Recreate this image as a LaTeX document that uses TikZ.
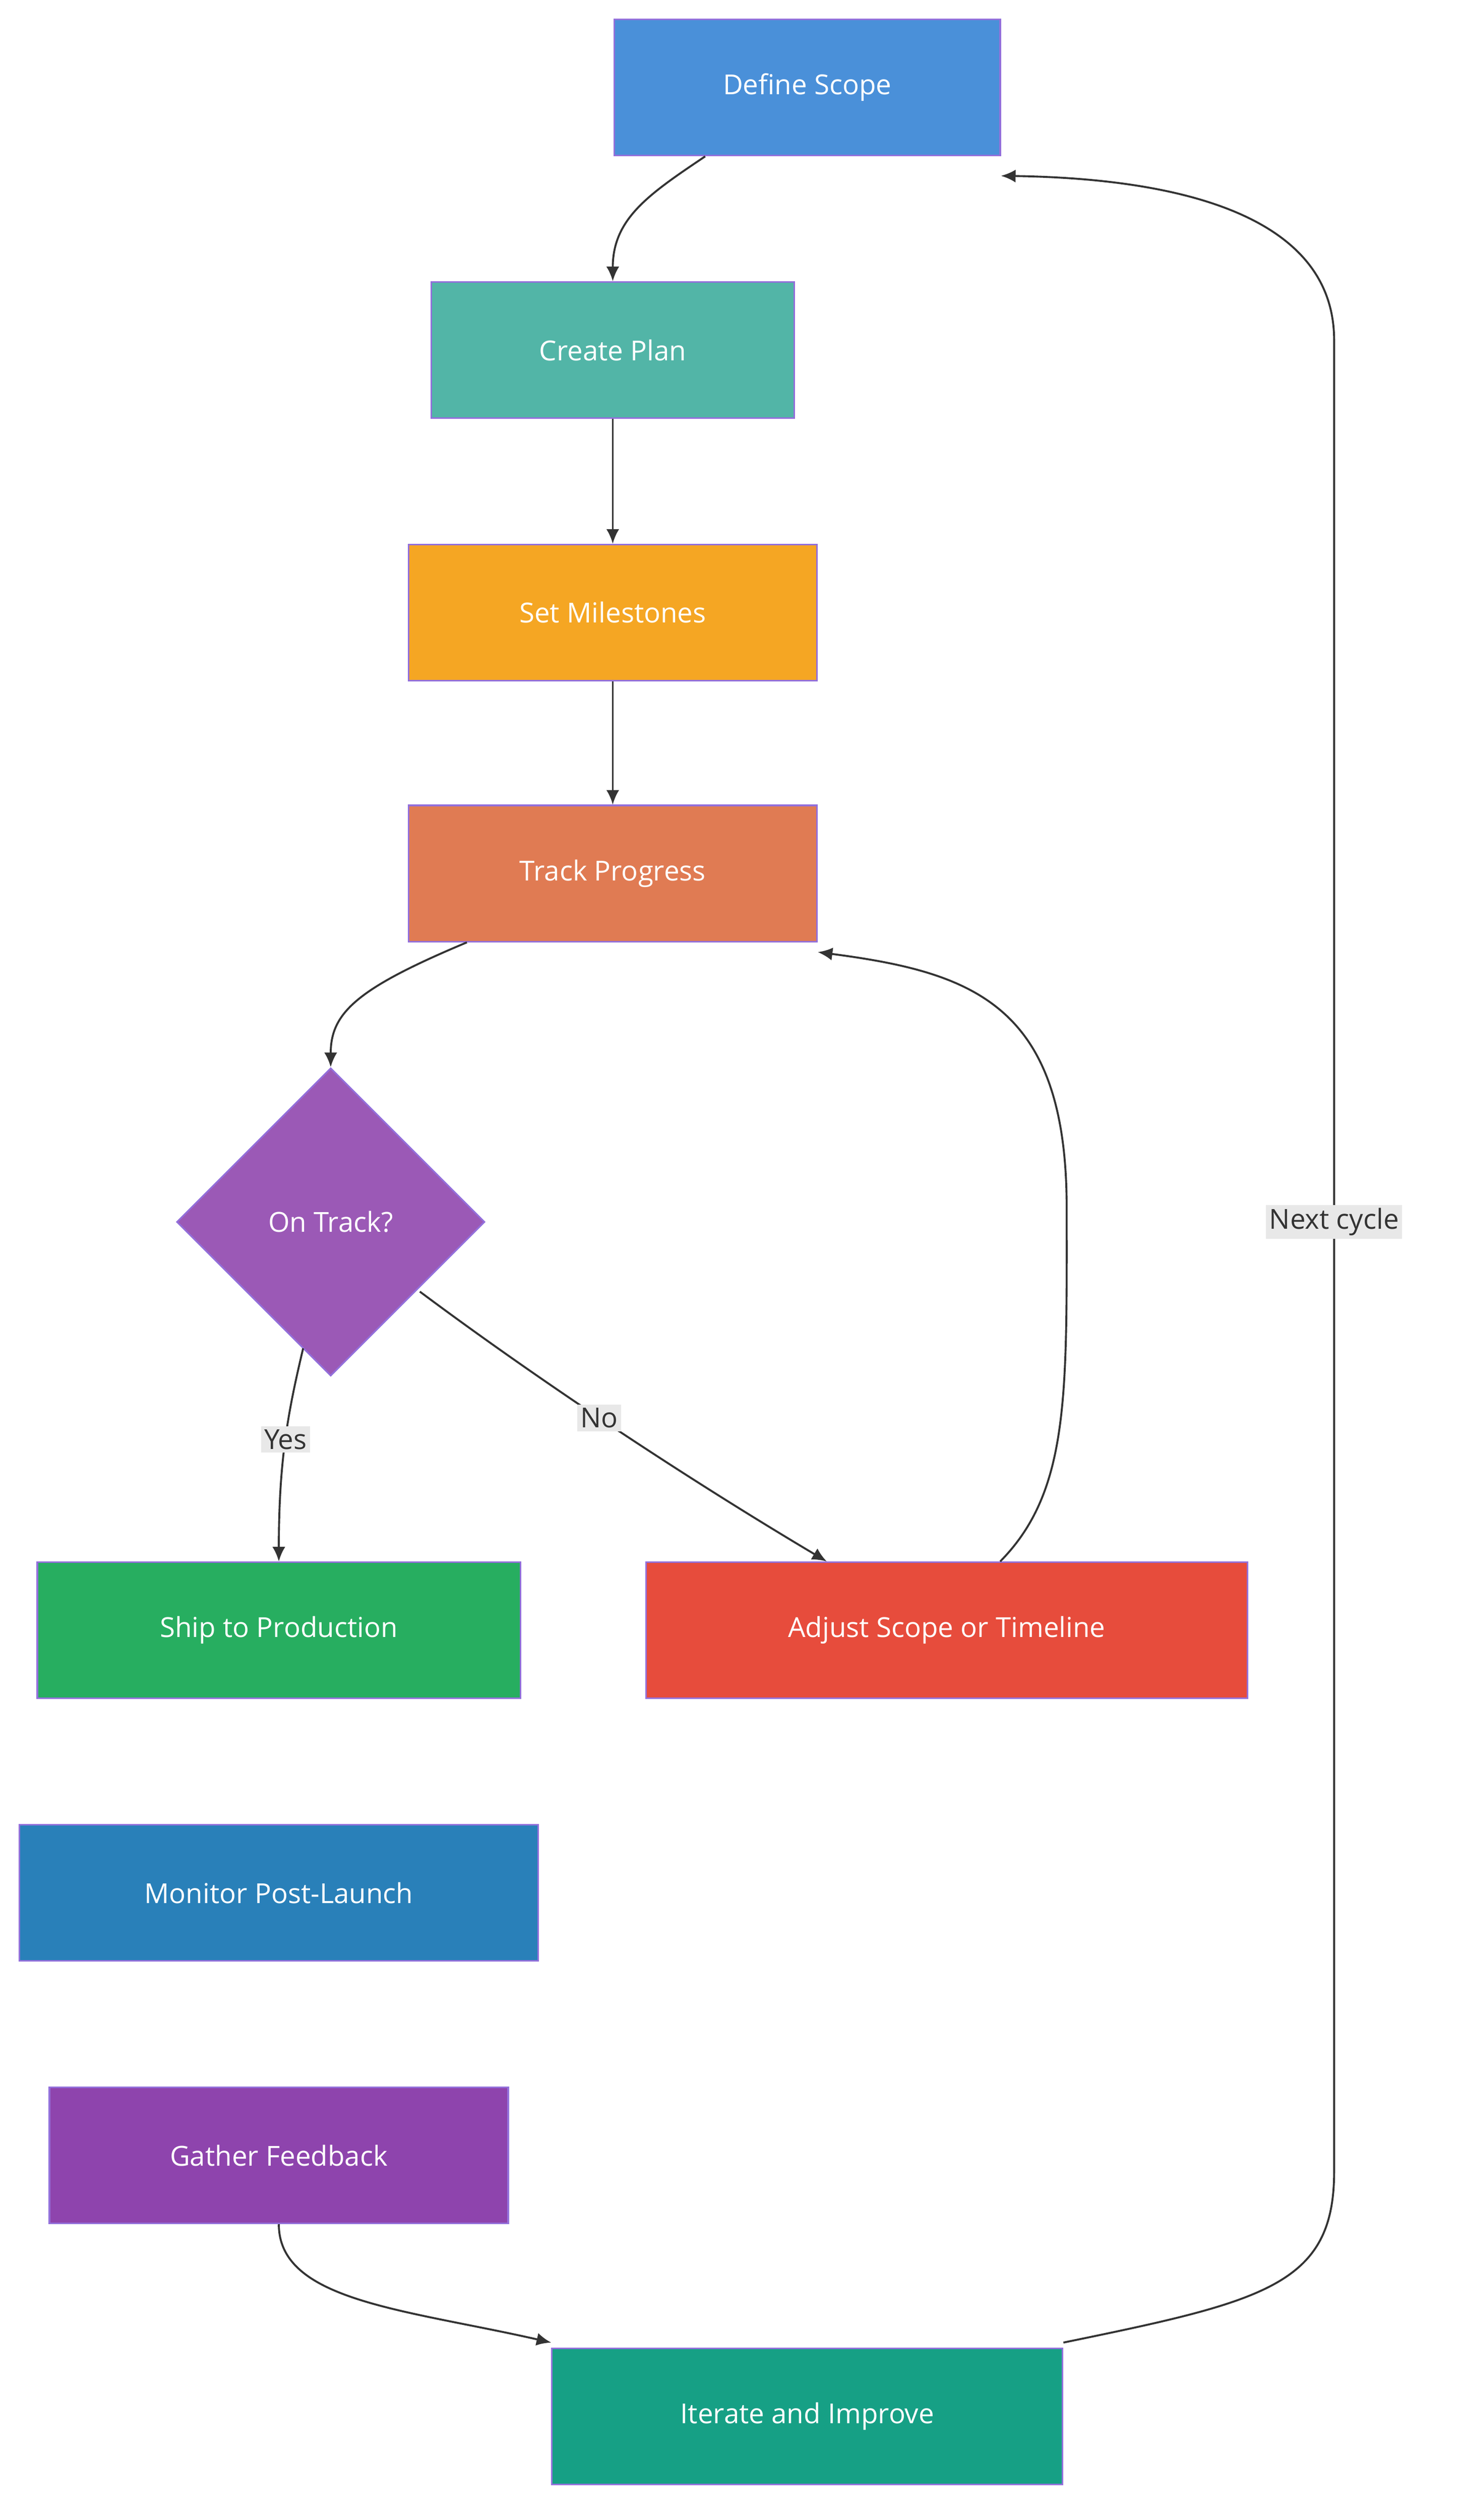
\documentclass[tikz,border=0pt]{standalone}
\usepackage{fontspec}
\setmainfont{Open Sans}
\usetikzlibrary{shapes.geometric,arrows.meta}
\definecolor{bd}{HTML}{9370DB}
\definecolor{ln}{HTML}{333333}
\tikzset{
 box/.style={draw=bd,line width=1pt,minimum height=84pt,text=white,font=\fontsize{17}{20}\selectfont},
 dia/.style={draw=bd,line width=1pt,diamond,minimum width=190pt,minimum height=190pt,inner sep=0pt,text=white,font=\fontsize{17}{20}\selectfont,aspect=1},
 conn/.style={draw=ln,line width=1.2pt,-{Latex[length=9pt,width=8pt]}},
 lab/.style={fill=gray!18,text=ln,font=\fontsize{17}{20}\selectfont,inner sep=2pt}
}
\begin{document}
\begin{tikzpicture}[x=1pt,y=-1pt]
\useasboundingbox[fill=white] (0,0) rectangle (900,1555);
\node[box,fill={rgb,255:red,74;green,144;blue,217},minimum width=238pt] (def) at (498,54) {Define Scope};
\node[box,fill={rgb,255:red,82;green,181;blue,167},minimum width=224pt] (cre) at (378,216) {Create Plan};
\node[box,fill={rgb,255:red,245;green,166;blue,35},minimum width=252pt] (set) at (378,378) {Set Milestones};
\node[box,fill={rgb,255:red,224;green,123;blue,83},minimum width=252pt] (trk) at (378,539) {Track Progress};
\node[dia,fill={rgb,255:red,155;green,89;blue,182}] (ont) at (204,754) {On Track?};
\node[box,fill={rgb,255:red,39;green,174;blue,96},minimum width=298pt] (shp) at (172,1006) {Ship to Production};
\node[box,fill={rgb,255:red,231;green,76;blue,60},minimum width=371pt] (adj) at (584,1006) {Adjust Scope or Timeline};
\node[box,fill={rgb,255:red,41;green,128;blue,185},minimum width=320pt] (mon) at (172,1168) {Monitor Post-Launch};
\node[box,fill={rgb,255:red,142;green,68;blue,173},minimum width=283pt] (gat) at (172,1330) {Gather Feedback};
\node[box,fill={rgb,255:red,22;green,160;blue,133},minimum width=315pt] (itr) at (498,1491) {Iterate and Improve};
\draw[conn] ([xshift=-63pt]def.south) .. controls (400,120) and (378,135) .. (cre.north);
\draw[conn] (cre) -- (set);
\draw[conn] (set) -- (trk);
\draw[conn] ([xshift=-90pt]trk.south) .. controls (220,610) and (204,625) .. (ont.north);
\draw[conn] (187,832) .. controls (178,870) and (172,900) .. (shp.north) node[lab,pos=0.5] {Yes};
\draw[conn] (259,797) .. controls (330,850) and (420,910) .. ([xshift=-74pt]adj.north) node[lab,pos=0.47] {No};
\draw[conn] ([xshift=33pt]adj.north) .. controls (660,920) and (658,860) .. (658,745) .. controls (658,620) and (600,600) .. ([yshift=-6pt]trk.south east);
\draw[conn] (gat.south) .. controls (172,1420) and (250,1425) .. ([yshift=3pt]itr.north west);
\draw[conn] ([yshift=3pt]itr.north east) .. controls (780,1420) and (823,1410) .. (823,1340) -- (823,210) .. controls (823,130) and (720,110) .. ([yshift=-12pt]def.south east) ;
\node[lab] (nc) at (823,754) {Next cycle};
\end{tikzpicture}
\end{document}
